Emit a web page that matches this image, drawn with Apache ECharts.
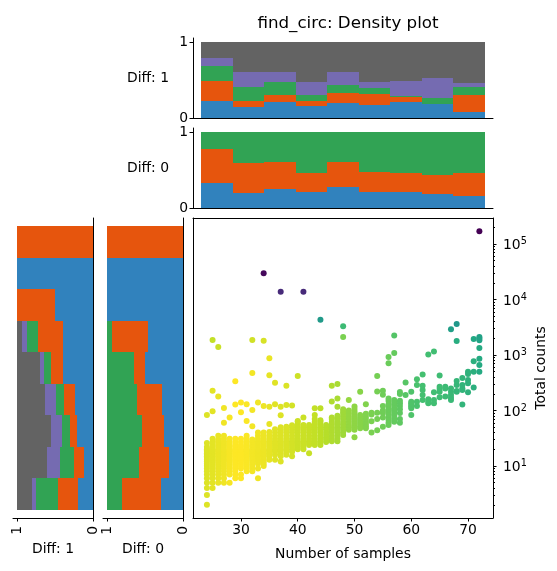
<!DOCTYPE html>
<html><head><meta charset="utf-8">
<style>html,body{margin:0;padding:0;background:#fff}#c{width:557px;height:571px}</style>
<script src="https://cdn.jsdelivr.net/npm/echarts@6/dist/echarts.min.js"></script>
</head><body><div id="c"></div>
<script>
const title = 'find_circ: Density plot';
const layerColors = ['#3182bd', '#e6550d', '#31a354', '#756bb1', '#636363'];

// Upper edge of each stacked layer per x bin (left to right)
const topDiff1Edges = [
  [.22, .145, .21, .16, .197, .17, .215, .19, .083],
  [.487, .22, .30, .22, .33, .32, .27, .19, .30],
  [.69, .41, .48, .30, .435, .40, .295, .265, .41],
  [.79, .605, .605, .475, .605, .475, .487, .525, .46],
  [1, 1, 1, 1, 1, 1, 1, 1, 1]
];
const topDiff0Edges = [
  [.33, .20, .25, .215, .27, .215, .215, .19, .16],
  [.776, .59, .61, .46, .61, .48, .46, .435, .46],
  [1, 1, 1, 1, 1, 1, 1, 1, 1]
];
// Upper edge of each stacked layer per y bin (bottom to top)
const leftDiff1Edges = [
  [.20, .123, .21, .237, .395, .395, .50, 1, 0],
  [.465, .254, .307, .386, .55, .73, 1, 1, 1],
  [.755, .44, .41, .49, .65, .87, 1, 1, 1],
  [.80, .60, .55, .63, .70, .935, 1, 1, 1],
  [1, 1, 1, 1, 1, 1, 1, 1, 1]
];
const leftDiff0Edges = [
  [.29, .184, .254, .28, .50, .465, 1, 1, 0],
  [.807, .58, .544, .605, .65, .94, 1, 1, 1],
  [1, 1, 1, 1, 1, 1, 1, 1, 1]
];

// Scatter: sample number per column, counts in it, colour position per column
const sampleColumns = [24,25,26,27,28,29,30,31,32,33,34,35,36,37,38,39,40,41,42,43,44,45,46,47,48,49,50,51,52,53,54,55,56,57,58,59,60,61,62,63,64,65,66,67,68,69,70,71,72];
const countsByColumn = [
  [2,3,4,5,6,7,8,9,10,11,12,13,14,15,16,17,18,19,20,22,26,83],
  [4,5,6,7,8,9,10,11,12,13,14,15,16,17,18,19,20,22,24,27,31,97,228],
  [5,6,7,8,9,10,11,12,13,14,15,16,17,18,19,20,22,24,26,28,30,35,178],
  [5,6,7,8,9,10,11,12,13,14,15,16,17,18,19,20,22,24,26,28,31,35,60,111],
  [5,7,8,9,10,11,12,13,14,15,16,17,18,19,20,22,24,27,31,75],
  [6,7,8,9,10,11,12,13,14,15,16,17,18,19,20,22,24,27,31,128,336],
  [6,7,9,10,11,12,13,14,15,16,17,18,19,20,22,24,27,31,93,140],
  [8,9,10,11,12,13,14,15,16,17,18,19,20,22,24,26,28,31,35,65,129],
  [8,9,10,11,12,13,14,15,16,17,18,19,20,22,24,27,30,52,102,475],
  [6,9,11,12,13,14,15,16,17,18,19,20,22,24,26,28,31,35,40,140],
  [10,11,12,13,14,15,16,17,18,19,20,22,24,26,28,31,35,40,120],
  [13,15,16,17,18,19,20,22,24,26,28,31,35,41,57,117,430],
  [13,16,18,19,20,22,24,26,28,31,35,40,46,130,316],
  [12,15,17,19,20,22,24,26,28,31,35,40,45,50,82,117],
  [16,18,20,22,24,26,28,31,35,40,45,51,125,280],
  [15,18,20,22,24,26,28,31,35,40,45,50,54,123],
  [20,22,24,26,28,31,35,40,45,50,56,63,65,420],
  [20,22,24,26,28,31,35,40,45,50,55,75],
  [17,24,26,28,31,35,40,45,50,55],
  [24,26,28,31,35,40,45,50,56,62,70,83,110],
  [24,27,31,35,40,45,50,56,62,67,110],
  [27,30,33,37,41,46,50,55],
  [28,31,35,40,45,50,56,62,70,75,145,280],
  [28,31,35,40,45,50,56,62,70,80,117,165,300],
  [36,40,45,50,56,62,70,78,87,95,105],
  [45,50,55,62,70,78,88,100,155],
  [33,45,50,55,60,66,72,80,88,96,106,118],
  [48,52,57,62,68,75,83,218],
  [48,52,57,63,70,78,87,130],
  [40,64,85,91],
  [44,70,91,220,420],
  [51,75,90,100,120,193,228],
  [55,60,68,75,85,95,105,118,130,150,165,712,920],
  [63,70,80,90,100,110,125,140,155,1090],
  [60,70,90,105,120,135,150,198,215],
  [190,321],
  [83,110,118,125,135,144,218],
  [120,144,288,364],
  [155,190,235,280,447],
  [135,145,159,1020],
  [135,155,213,1160],
  [173,218,245,268,425],
  [178,250,268],
  [155,170,190,218,250],
  [218,225,288,340],
  [128,234,250,288,385],
  [213,310,355,455,500],
  [260,500,770],
  [500,660,860,1330]
];
const colourByColumn = [.95,.96,.97,.98,.99,1,1,.995,.985,.98,.975,.965,.955,.95,.945,.935,.925,.92,.915,.91,.90,.89,.88,.87,.855,.84,.83,.82,.81,.80,.79,.78,.77,.76,.75,.735,.72,.71,.70,.695,.69,.685,.68,.67,.66,.65,.64,.63,.61];

// Points far from the main cloud: sample number, count, colour position
const farX = [72,34,37,41,44,48,48,25,26,32,34,35,57,67,68,68,71,72,72,72];
const farY = [170000,29700,13800,13800,4300,3300,2100,1870,1400,1870,1800,870,2250,2900,3600,1780,1940,2120,1980,1850];
const farC = [.0,.02,.12,.12,.54,.68,.80,.91,.92,.93,.94,.97,.73,.56,.53,.62,.60,.57,.57,.58];

const yMajor = [10,100,1000,10000,100000];
const yMinor = [2,3,4,5,6,7,8,9,20,30,40,50,60,70,80,90,200,300,400,500,600,700,800,900,2000,3000,4000,5000,6000,7000,8000,9000,20000,30000,40000,50000,60000,70000,80000,90000,200000];
const xTicks = [30,40,50,60,70];

const viridis = ['#440154','#482475','#414487','#355f8d','#2a788e','#21918c','#22a884','#44bf70','#7ad151','#bddf26','#fde725'];
const font = 'DejaVu Sans';
const histMax = 1.0526, binMin = -0.2533, binMax = 9.2533;

const points = [];
sampleColumns.forEach((x, i) => countsByColumn[i].forEach(y => points.push([x, y, colourByColumn[i]])));
farX.forEach((x, i) => points.push([x, farY[i], farC[i]]));

function layerData(edges, idx) {
  return edges[idx].map((e, b) => [b, idx ? edges[idx - 1][b] : 0, e]);
}
function vertRender(p, api) {
  const a = api.coord([api.value(0), api.value(1)]);
  const b = api.coord([api.value(0) + 1, api.value(2)]);
  const x0 = Math.round(a[0]), x1 = Math.round(b[0]), y0 = Math.round(a[1]), y1 = Math.round(b[1]);
  return {type: 'rect', shape: {x: x0, y: y1, width: x1 - x0, height: y0 - y1}, style: {fill: api.visual('color')}};
}
function horizRender(p, api) {
  const a = api.coord([api.value(1), api.value(0)]);
  const b = api.coord([api.value(2), api.value(0) + 1]);
  const x0 = Math.round(a[0]), x1 = Math.round(b[0]), y0 = Math.round(a[1]), y1 = Math.round(b[1]);
  return {type: 'rect', shape: {x: x1, y: y1, width: x0 - x1, height: y0 - y1}, style: {fill: api.visual('color')}};
}
const line = {show: true, onZero: false, lineStyle: {color: '#000', width: 1}};
const tick = (vals, len) => ({show: true, length: len || 3.5, customValues: vals, lineStyle: {color: '#000', width: 1}});
const label = (vals, extra) => Object.assign({show: true, customValues: vals, color: '#000', fontFamily: font, fontSize: 13.9, margin: 5}, extra || {});
const off = {axisTick: {show: false}, axisLabel: {show: false}, splitLine: {show: false}};

const grids = [
  {left: 193, top: 218, width: 300, height: 300, outerBoundsMode: 'none'},
  {left: 193, top: 38, width: 300, height: 80, outerBoundsMode: 'none'},
  {left: 193, top: 128, width: 300, height: 80, outerBoundsMode: 'none'},
  {left: 13, top: 218, width: 80, height: 300, outerBoundsMode: 'none'},
  {left: 103, top: 218, width: 80, height: 300, outerBoundsMode: 'none'}
];
const hiddenBin = g => ({gridIndex: g, type: 'value', min: binMin, max: binMax, axisLine: {show: false}, axisTick: {show: false}, axisLabel: {show: false}, splitLine: {show: false}});
const xAxes = [
  {gridIndex: 0, type: 'value', min: 21.55, max: 74.4, position: 'bottom', axisLine: line, axisTick: tick(xTicks), axisLabel: label(xTicks), splitLine: {show: false},
   name: 'Number of samples', nameLocation: 'middle', nameGap: 29, nameTextStyle: {color: '#000', fontFamily: font, fontSize: 13.9}},
  Object.assign(hiddenBin(1), {axisLine: line}),
  Object.assign(hiddenBin(2), {axisLine: line})
];
[3, 4].forEach((g, i) => xAxes.push({gridIndex: g, type: 'value', inverse: true, min: 0, max: histMax, position: 'bottom', axisLine: line, axisTick: tick([0, 1]),
  axisLabel: label([0, 1], {rotate: 90, margin: 8}), splitLine: {show: false},
  name: 'Diff: ' + (i ? 0 : 1), nameLocation: 'middle', nameGap: 24, nameTextStyle: {color: '#000', fontFamily: font, fontSize: 13.9}}));
xAxes.push(Object.assign({gridIndex: 0, type: 'value', min: 21.55, max: 74.4, position: 'top', axisLine: line}, off));
const yAxes = [
  {gridIndex: 0, type: 'log', logBase: 10, min: 1.156, max: 294000, position: 'right', axisLine: line, axisTick: tick(yMajor),
   axisLabel: label(yMajor, {margin: 10, padding: [3, 0, 0, 0], formatter: v => '10{s|' + Math.round(Math.log10(v)) + '}', rich: {s: {fontSize: 9.7, verticalAlign: 'top', padding: [0, 0, 8, 0], fontFamily: font, color: '#000'}}}),
   splitLine: {show: false}, name: 'Total counts', nameLocation: 'middle', nameGap: 41, nameMoveOverlap: false, nameRotate: 90, nameTextStyle: {color: '#000', fontFamily: font, fontSize: 13.9}},
  {gridIndex: 0, type: 'log', logBase: 10, min: 1.156, max: 294000, position: 'right', axisLine: {show: false}, axisTick: tick(yMinor, 2), axisLabel: {show: false}, splitLine: {show: false}}
];
[[1, 'Diff: 1'], [2, 'Diff: 0']].forEach(([g, n]) => yAxes.push({gridIndex: g, type: 'value', min: 0, max: histMax, position: 'left', axisLine: line, axisTick: tick([0, 1]),
  axisLabel: label([0, 1], {padding: [2, 0, 0, 0]}), splitLine: {show: false}, name: n, nameLocation: 'middle', nameGap: 24, nameRotate: 0,
  nameTextStyle: {color: '#000', fontFamily: font, fontSize: 13.9, padding: [2, 0, 0, 0]}}));
[3, 4].forEach(g => yAxes.push(Object.assign(hiddenBin(g), {position: 'right', axisLine: line})));
yAxes.push(Object.assign({gridIndex: 0, type: 'log', logBase: 10, min: 1.156, max: 294000, position: 'left', axisLine: line}, off));

const series = [{type: 'scatter', xAxisIndex: 0, yAxisIndex: 0, data: points, symbolSize: 6, itemStyle: {opacity: 1}, silent: true}];
function addLayers(edges, axisIdx, horizontal) {
  edges.forEach((_, i) => series.push({type: 'custom', xAxisIndex: axisIdx[0], yAxisIndex: axisIdx[1], coordinateSystem: 'cartesian2d', silent: true, clip: false,
    itemStyle: {color: layerColors[i]}, renderItem: horizontal ? horizRender : vertRender,
    encode: horizontal ? {x: [1, 2], y: 0} : {x: 0, y: [1, 2]}, data: layerData(edges, i)}));
}
addLayers(topDiff1Edges, [1, 2], false);
addLayers(topDiff0Edges, [2, 3], false);
addLayers(leftDiff1Edges, [3, 4], true);
addLayers(leftDiff0Edges, [4, 5], true);

const chart = echarts.init(document.getElementById('c'), null, {renderer: 'canvas'});
chart.setOption({
  animation: false,
  backgroundColor: '#fff',
  title: {text: title, left: 343, top: 11, textAlign: 'center', textStyle: {color: '#000', fontFamily: font, fontSize: 16.7, fontWeight: 'normal', lineHeight: 16}},
  tooltip: {show: false},
  visualMap: {show: false, type: 'continuous', seriesIndex: 0, dimension: 2, min: 0, max: 1, inRange: {color: viridis}},
  grid: grids, xAxis: xAxes, yAxis: yAxes, series
});
</script></body></html>
